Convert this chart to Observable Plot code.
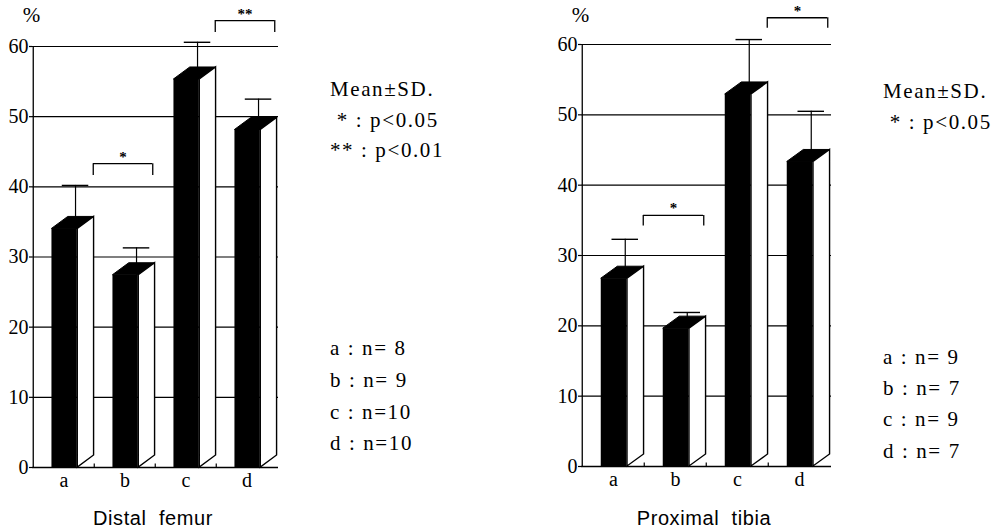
<!DOCTYPE html>
<html>
<head>
<meta charset="utf-8">
<script src="https://cdn.jsdelivr.net/npm/d3@7"></script>
<script src="https://cdn.jsdelivr.net/npm/@observablehq/plot@0.6"></script>
<style>
  html, body { margin: 0; padding: 0; background: #fff; }
  #wrap { position: relative; width: 1004px; height: 532px; overflow: hidden; font-family: "Liberation Serif", "DejaVu Serif", serif; color: #000; }
  #wrap svg { font-family: "Liberation Serif", "DejaVu Serif", serif !important; overflow: visible !important; }
  .panel { position: absolute; top: 0; }
  .title { position: absolute; top: 500px; height: 32px; line-height: 36px; font-family: "Liberation Sans", Arial, sans-serif; font-size: 20px; letter-spacing: 0.6px; text-align: center; white-space: pre; }
  .legend { position: absolute; font-family: "Liberation Serif", serif; font-size: 21px; white-space: pre; letter-spacing: 1.6px; }
  .legend div { position: absolute; left: 0; transform: translateY(-50%); }
</style>
</head>
<body>
<div id="wrap"></div>
<script>
// ---------- data ----------
const categories = ["a", "b", "c", "d"];
const yTicks = [0, 10, 20, 30, 40, 50, 60];

const femurMean  = [34.0, 27.4, 55.3, 48.1];
const femurUpper = [40.2, 31.3, 60.6, 52.5];   // mean + SD
const tibiaMean  = [26.7, 19.6, 52.9, 43.3];
const tibiaUpper = [32.3, 21.9, 60.7, 50.5];   // mean + SD

const femurSigCats   = ["b", "d"];
const femurSigTop    = [43.3, 63.7];
const femurSigLeg    = [41.6, 62.0];
const femurSigLabels = ["*", "**"];
const tibiaSigCats   = ["b", "d"];
const tibiaSigTop    = [35.7, 63.8];
const tibiaSigLeg    = [34.2, 62.3];
const tibiaSigLabels = ["*", "*"];

const femurTitle = "Distal  femur";
const tibiaTitle = "Proximal  tibia";
const femurNotes = ["Mean\u00B1SD.", " * : p<0.05", "** : p<0.01"];
const tibiaNotes = ["Mean\u00B1SD.", " * : p<0.05"];
const femurN = [" 8", " 9", "10", "10"];
const tibiaN = [" 9", " 7", " 9", " 7"];

// ---------- chart builder ----------
function panel({mean, upper, sigCats, sigTop, sigLeg, sigLabels, width, height, ml, mr, mt, mb}) {
  const bars = categories.map((c, i) => ({cat: c, mean: mean[i], upper: upper[i]}));
  const sig = sigCats.map((c, i) => ({cat: c, top: sigTop[i], leg: sigLeg[i], label: sigLabels[i]}));
  const s = (width - ml - mr) / categories.length;   // band step (padding 0)
  const fStart = 0.30 * s, fWidth = 0.42 * s, depth = 0.265 * s, rise = 12;
  const errX = fStart + fWidth - 2;                   // from band start
  const capHalf = 13.5;

  // 3D top + side faces, drawn via Plot's own scales
  const faces = (index, scales) => {
    const x = scales.x, y = scales.y;
    const g = d3.create("svg:g");
    const y0 = y(0);
    for (const d of bars) {
      const L = x(d.cat) + fStart, R = L + fWidth, v = y(d.mean);
      g.append("path")
        .attr("d", `M${L},${v}L${R},${v}L${R + depth},${v - rise}L${L + depth},${v - rise}Z`)
        .attr("fill", "#000").attr("stroke", "#000").attr("stroke-width", 1);
      g.append("path")
        .attr("d", `M${R},${v}L${R + depth},${v - rise}L${R + depth},${y0 - rise}L${R},${y0}Z`)
        .attr("fill", "#fff").attr("stroke", "#000").attr("stroke-width", 1.4).attr("stroke-linejoin", "miter");
    }
    return g.node();
  };

  return Plot.plot({
    width, height,
    marginLeft: ml, marginRight: mr, marginTop: mt, marginBottom: mb,
    style: "background:#fff;color:#000;overflow:visible;font-family:'Liberation Serif',serif;",
    x: {domain: categories, type: "band", padding: 0},
    y: {domain: [0, 60]},
    marks: [
      // horizontal grid lines
      Plot.ruleY(yTicks.slice(1), {stroke: "#000", strokeWidth: 1.1, strokeOpacity: 1}),
      // error bars (behind the bars)
      Plot.ruleX(bars, {x: "cat", y1: "mean", y2: "upper", dx: errX - s / 2, stroke: "#000", strokeWidth: 1.2}),
      Plot.tickY(bars, {x: "cat", y: "upper", insetLeft: errX - capHalf, insetRight: s - errX - capHalf, stroke: "#000", strokeWidth: 1.4}),
      // front faces
      Plot.barY(bars, {x: "cat", y: "mean", insetLeft: fStart, insetRight: s - fStart - fWidth, fill: "#000"}),
      faces,
      // axes lines
      Plot.ruleX([0], {x: () => categories[0], dx: -s / 2, y1: 0, y2: 60, stroke: "#000", strokeWidth: 1.3}),
      Plot.ruleY([0], {stroke: "#000", strokeWidth: 1.6}),
      // small ticks between categories
      Plot.ruleX(categories.slice(1), {x: d => d, dx: -s / 2, y1: 0, y2: 0.5, stroke: "#000", strokeWidth: 1.2}),
      Plot.axisY(yTicks, {tickSize: 3, tickPadding: 1, fontSize: 20, fontFamily: "Liberation Serif", label: null, stroke: "#000", strokeWidth: 1.2}),
      Plot.axisX(categories, {tickSize: 0, tickPadding: 5, fontSize: 20, fontFamily: "Liberation Serif", label: null}),
      // significance brackets
      Plot.tickY(sig, {x: "cat", y: "top", insetLeft: -1, insetRight: 3, stroke: "#000", strokeWidth: 1.3}),
      Plot.ruleX(sig, {x: "cat", y1: "leg", y2: "top", dx: -s / 2 - 1, stroke: "#000", strokeWidth: 1.3}),
      Plot.ruleX(sig, {x: "cat", y1: "leg", y2: "top", dx: s / 2 - 3, stroke: "#000", strokeWidth: 1.3}),
      Plot.text(sig, {x: "cat", y: "top", text: "label", dx: -2, dy: -2, fontSize: 15, fontFamily: "Liberation Serif", lineAnchor: "bottom", fill: "#000", fontWeight: "bold"}),
      // unit label
      Plot.text(["%"], {frameAnchor: "top-left", dx: -1, dy: 15 - mt, fontSize: 21, fontFamily: "Liberation Serif", fill: "#000", textAnchor: "middle", lineAnchor: "middle"})
    ]
  });
}

const wrap = document.getElementById("wrap");

function addPanel(left, opts, title, titleCenter, notes, notesX, notesY, ns, nsX, nsY, nsStep) {
  const div = document.createElement("div");
  div.className = "panel";
  div.style.left = left + "px";
  div.appendChild(panel(opts));
  wrap.appendChild(div);

  const t = document.createElement("div");
  t.className = "title";
  t.textContent = title;
  t.style.left = (titleCenter - 100) + "px";
  t.style.width = "200px";
  wrap.appendChild(t);

  const lg = document.createElement("div");
  lg.className = "legend";
  lg.style.left = notesX + "px";
  lg.style.top = "0px";
  notes.forEach((txt, i) => {
    const r = document.createElement("div");
    r.textContent = txt;
    r.style.top = (notesY + i * 30.5) + "px";
    lg.appendChild(r);
  });
  ns.forEach((n, i) => {
    const r = document.createElement("div");
    r.textContent = categories[i] + " : n=" + n;
    r.style.top = (nsY + i * nsStep) + "px";
    lg.appendChild(r);
  });
  wrap.appendChild(lg);
}

addPanel(0, {mean: femurMean, upper: femurUpper, sigCats: femurSigCats, sigTop: femurSigTop, sigLeg: femurSigLeg, sigLabels: femurSigLabels,
              width: 502, height: 500, ml: 32, mr: 224, mt: 46, mb: 33},
         femurTitle, 153, femurNotes, 330, 89, femurN, 330, 348, 31.8);
addPanel(502, {mean: tibiaMean, upper: tibiaUpper, sigCats: tibiaSigCats, sigTop: tibiaSigTop, sigLeg: tibiaSigLeg, sigLabels: tibiaSigLabels,
              width: 502, height: 500, ml: 79, mr: 173, mt: 44, mb: 34},
         tibiaTitle, 704, tibiaNotes, 883, 91, tibiaN, 883, 357, 31.2);
</script>
</body>
</html>
